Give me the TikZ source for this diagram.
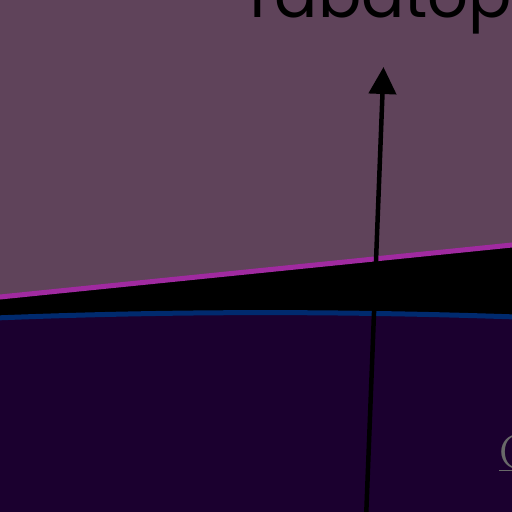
\documentclass[tikz,border=0pt]{standalone}
\usepackage{fontspec}
\newfontfamily\popfont{Poppins}
\usetikzlibrary{arrows.meta}
\definecolor{mauve}{RGB}{95,67,90}
\definecolor{deep}{RGB}{27,0,47}
\definecolor{magline}{RGB}{160,42,160}
\definecolor{blueline}{RGB}{0,42,110}
\definecolor{greytxt}{RGB}{105,105,105}
\tikzset{
  bandline/.style={line width=5pt},
  arrowline/.style={line width=4.5pt, -{Triangle[length=27pt,width=27pt]}},
  titletxt/.style={font=\popfont\fontsize{64}{64}\selectfont, text=black, inner sep=0pt, anchor=base west},
  cornertxt/.style={font=\fontsize{48}{48}\selectfont, text=greytxt, inner sep=0pt, anchor=base west},
}
\begin{document}
\begin{tikzpicture}[x=1pt,y=-1pt]
\useasboundingbox (0,0) rectangle (512,512);
\fill[mauve] (0,0) rectangle (512,512);
\fill[deep] (0,318) .. controls (170,311) and (340,311) .. (512,317) -- (512,512) -- (0,512) -- cycle;
\fill[black] (0,297) -- (512,245) -- (512,317) .. controls (340,311) and (170,311) .. (0,318) -- cycle;
\draw[bandline, magline] (-5,297.5) -- (517,244.5);
\draw[bandline, blueline] (-5,318) .. controls (170,311) and (340,311) .. (517,317);
\node[titletxt] (title) at (240,17.5) {Tabatop};
\node[cornertxt] (corner) at (499,468) {\underline{Cu}};
\coordinate (tail) at (366,520);
\coordinate (head) at (383.5,67);
\draw[arrowline] (tail) -- (head);
\end{tikzpicture}
\end{document}
